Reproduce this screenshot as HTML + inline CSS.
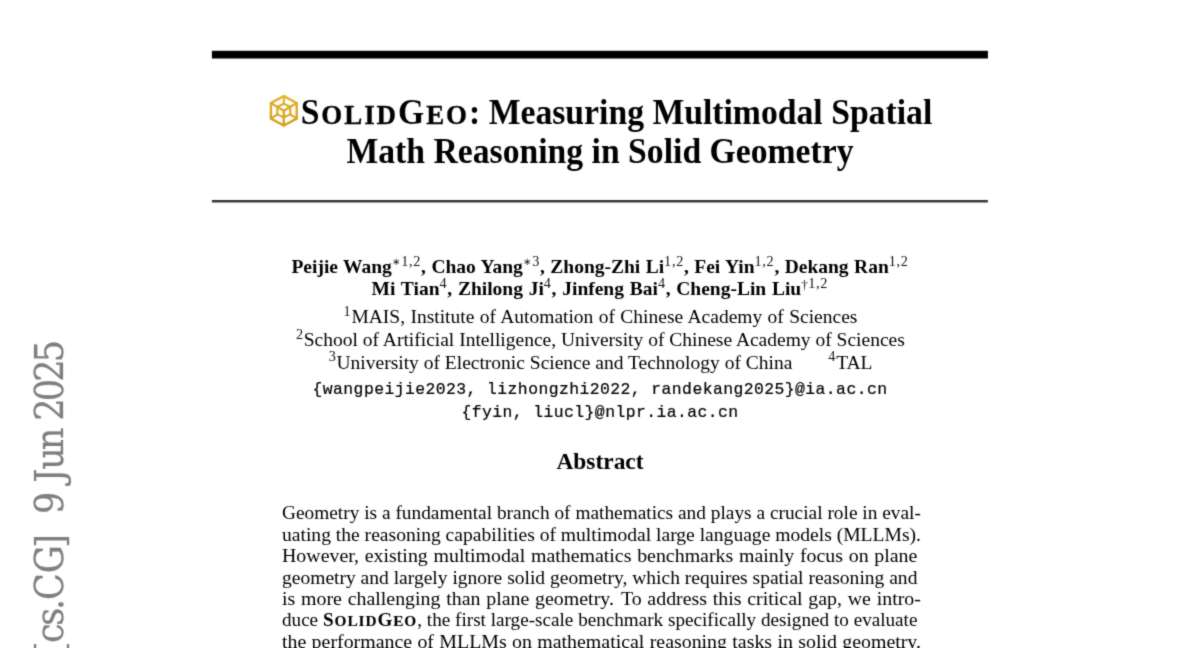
<!DOCTYPE html>
<html lang="en"><head><meta charset="utf-8"><title>SolidGeo: Measuring Multimodal Spatial Math Reasoning in Solid Geometry</title>
<style>
html,body{margin:0;padding:0;background:#fff;width:1200px;height:648px;overflow:hidden;}
#pg{filter:url(#soft);background:#fff;position:absolute;left:0;top:0;width:1200px;height:648px;overflow:hidden;}
body{position:relative;font-family:"Liberation Serif",serif;color:#000;}
.l{position:absolute;white-space:nowrap;margin:0;}
.j{word-spacing:-1.6px;}
.t{font-weight:bold;}
.a{font-weight:bold;}
.h{font-weight:bold;}
.m{font-family:"Liberation Mono",monospace;letter-spacing:0.43px;-webkit-text-stroke:0.2px #000;}
.sc{font-size:80%;-webkit-text-stroke:0.35px #000;}
.sg{letter-spacing:1.95px;}
.sg2{letter-spacing:0.95px;}
.sc3{font-size:80%;-webkit-text-stroke:0.15px #000;}
.sc2{font-size:83%;letter-spacing:0.3px;}
.s{font-family:"Liberation Serif",serif;font-weight:normal;font-size:14.2px;line-height:0;position:relative;top:-7.2px;letter-spacing:0.7px;color:#111;}
.st{font-size:9.6px;letter-spacing:1.4px;position:relative;top:-0.6px;}
.dg{font-size:13.5px;letter-spacing:0.2px;position:relative;top:1.2px;}
.gap{display:inline-block;width:36px;}
.xs{display:inline-block;width:1.2px;}
.rules{position:absolute;left:0;top:0;}
.ico{display:inline-block;width:29.3px;height:1px;vertical-align:baseline;position:relative;margin-right:2px;}
.stamp{position:absolute;left:0;top:0;overflow:hidden;}
.stamp text{font-family:"DejaVu Serif",serif;font-stretch:condensed;font-size:39.05px;fill:#7f7f7f;stroke:#7f7f7f;stroke-width:0.25px;}
</style></head><body>
<svg width="0" height="0" style="position:absolute"><defs><filter id="soft" x="0" y="0" width="100%" height="100%" color-interpolation-filters="sRGB"><feConvolveMatrix order="3" kernelMatrix="0.03 0.09 0.03 0.09 0.52 0.09 0.03 0.09 0.03" edgeMode="duplicate" preserveAlpha="true"/></filter></defs></svg>
<div id="pg">
<svg class="rules" width="1200" height="210" viewBox="0 0 1200 210"><rect x="211.9" y="50.8" width="776" height="7.7" fill="#000"/><rect x="211.9" y="200.0" width="776" height="2.45" fill="#333"/></svg>
<svg class="stamp" width="120" height="648" viewBox="0 0 120 648"><text transform="translate(62.6 654.77) rotate(-90)" x="-0.35 11.83 28.93 44.84 54.88 81.41 106.99 122.55 140.66 161.60 171.92 185.00 204.53 225.61 233.96 253.48 273.01 292.53" y="0">[cs.CG] 9 Jun 2025</text></svg>
<div class="l t" style="top:92.83px;font-size:33.7px;line-height:40px;left:0.80px;width:1200px;text-align:center;transform:scaleY(1.045);transform-origin:50% 31.37px;"><span class="ico"><svg viewBox="0 0 30 34" width="30" height="34" style="position:absolute;left:0;top:-29.25px;overflow:visible;transform:scaleY(0.957);transform-origin:0 30.25px" fill="none" stroke="url(#gd)" stroke-width="2.45" stroke-linejoin="round" stroke-linecap="round"><defs><linearGradient id="gd" gradientUnits="userSpaceOnUse" x1="0" y1="0" x2="0" y2="34"><stop offset="0" stop-color="#e4b42e"/><stop offset="1" stop-color="#d29d1e"/></linearGradient></defs><path d="M14.8 2.1 L27.7 9 L27.7 24.6 L14.8 31.5 L1.9 24.6 L1.9 9 Z"/><path d="M1.9 9 L14.8 16.7 L27.7 9 M14.8 16.7 L14.8 31.5"/><g stroke-width="2.15"><path d="M14.8 2.1 L14.8 9.7 M1.9 24.6 L8.35 20.4 M27.7 24.6 L21.25 20.4"/><path d="M14.8 9.7 L21.25 12.8 L21.25 20.4 L14.8 23.4 L8.35 20.4 L8.35 12.8 Z"/></g></svg></span><span class="sg">S<span class="sc">OLID</span>G<span class="sc">EO</span></span>: Measuring Multimodal Spatial</div>
<div class="l t" style="top:131.93px;font-size:33.7px;line-height:40px;left:0.00px;width:1200px;text-align:center;transform:scaleY(1.045);transform-origin:50% 31.37px;">Math Reasoning in Solid Geometry</div>
<div class="l a" style="top:254.82px;font-size:19.5px;line-height:23px;left:0.00px;width:1200px;text-align:center;word-spacing:0.55px;">Peijie Wang<span class="s"><span class="st">∗</span>1,2</span>, Chao Yang<span class="s"><span class="st">∗</span>3</span>, Zhong-Zhi Li<span class="s">1,2</span>, Fei Yin<span class="s">1,2</span>, Dekang Ran<span class="s">1,2</span></div>
<div class="l a" style="top:277.22px;font-size:19.5px;line-height:23px;left:-0.20px;width:1200px;text-align:center;word-spacing:0.85px;">Mi Tian<span class="s">4</span>, Zhilong Ji<span class="s">4</span>, Jinfeng Bai<span class="s">4</span>, Cheng-Lin Liu<span class="s"><span class="dg">†</span>1,2</span></div>
<div class="l b" style="top:304.82px;font-size:19.5px;line-height:23px;left:0.50px;width:1200px;text-align:center;word-spacing:0.5px;"><span class="s">1</span>MAIS, Institute of Automation of Chinese Academy of Sciences</div>
<div class="l b" style="top:328.22px;font-size:19.5px;line-height:23px;left:0.40px;width:1200px;text-align:center;"><span class="s">2</span>School of Artificial Intelligence, University of Chinese Academy of Sciences</div>
<div class="l b" style="top:350.62px;font-size:19.5px;line-height:23px;left:0.60px;width:1200px;text-align:center;"><span class="s">3</span>University of Electronic Science and Technology of China<span class="gap"></span><span class="s">4</span>TAL</div>
<div class="l m" style="top:380.23px;font-size:16.4px;line-height:20px;left:0.00px;width:1200px;text-align:center;">{wangpeijie2023, lizhongzhi2022, randekang2025}@ia.ac.cn</div>
<div class="l m" style="top:402.63px;font-size:16.4px;line-height:20px;left:0.00px;width:1200px;text-align:center;">{fyin, liucl}@nlpr.ia.ac.cn</div>
<div class="l h" style="top:446.60px;font-size:23.4px;line-height:28px;left:0.00px;width:1200px;text-align:center;">Abstract</div>
<div class="l b j" style="top:501.12px;font-size:19.5px;line-height:23px;left:282.40px;width:644.34px;text-align:justify;text-align-last:justify;transform:scaleX(0.9916);transform-origin:0 0;">Geometry is a fundamental branch of mathematics and plays a crucial role in eval-</div>
<div class="l b j" style="top:522.59px;font-size:19.5px;line-height:23px;left:282.40px;width:636.30px;text-align:justify;text-align-last:justify;transform:scaleX(1.0042);transform-origin:0 0;">uating the reasoning capabilities of multimodal large language models (MLLMs).</div>
<div class="l b j" style="top:544.06px;font-size:19.5px;line-height:23px;left:282.40px;width:622.94px;text-align:justify;text-align-last:justify;transform:scaleX(1.0200);transform-origin:0 0;">However, existing multimodal mathematics benchmarks mainly focus on plane</div>
<div class="l b j" style="top:565.53px;font-size:19.5px;line-height:23px;left:282.40px;width:634.59px;text-align:justify;text-align-last:justify;transform:scaleX(1.0013);transform-origin:0 0;">geometry and largely ignore solid geometry, which requires spatial reasoning and</div>
<div class="l b j" style="top:587.00px;font-size:19.5px;line-height:23px;left:282.40px;width:626.37px;text-align:justify;text-align-last:justify;transform:scaleX(1.0200);transform-origin:0 0;">is more challenging than plane geometry. <span class="xs"></span>To address this critical gap, we intro-</div>
<div class="l b j" style="top:608.47px;font-size:19.5px;line-height:23px;left:282.40px;width:647.71px;text-align:justify;text-align-last:justify;transform:scaleX(0.9810);transform-origin:0 0;">duce <b class="sg2">S<span class="sc3">OLID</span>G<span class="sc3">EO</span></b>, the first large-scale benchmark specifically designed to evaluate</div>
<div class="l b j" style="top:629.94px;font-size:19.5px;line-height:23px;left:282.40px;width:626.47px;text-align:justify;text-align-last:justify;transform:scaleX(1.0200);transform-origin:0 0;">the performance of MLLMs on mathematical reasoning tasks in solid geometry.</div>
</div>
</body></html>
